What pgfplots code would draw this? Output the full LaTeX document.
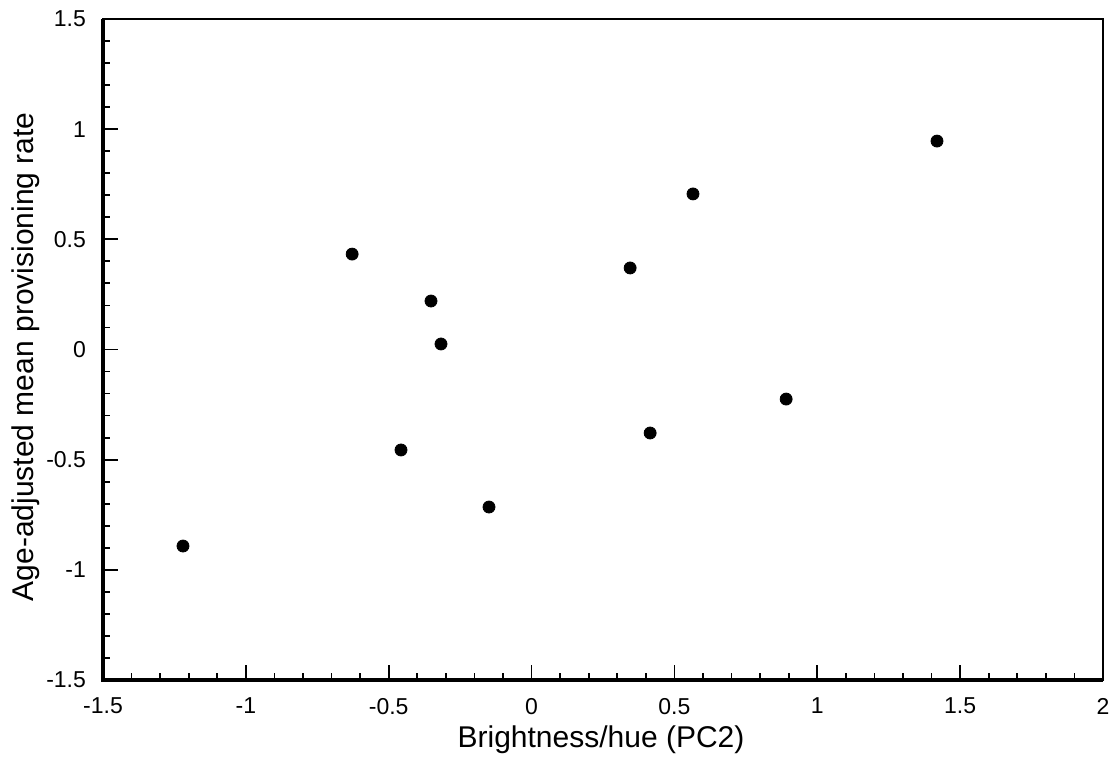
\documentclass[border=0pt]{standalone}
\usepackage{fontspec}
\setmainfont{Liberation Sans}
\usepackage{pgfplots}
\pgfplotsset{compat=1.18}

\begin{document}
\begin{tikzpicture}
\useasboundingbox (-51.5pt,-39pt) rectangle (505pt,340pt);
\begin{axis}[
  at={(0pt,0pt)}, anchor=south west,
  scale only axis,
  width=500pt, height=330.5pt,
  xmin=-1.5, xmax=2, ymin=-1.5, ymax=1.5,
  xtick={-1.5,-1,...,2}, ytick={-1.5,-1,...,1.5},
  minor tick num=4,
  tick align=inside,
  xtick pos=bottom, ytick pos=left,
  major tick length=7.5pt, minor tick length=3.5pt,
  every tick/.style={black, line width=0.9pt},
  axis line style={line width=1pt},
  /pgf/number format/assume math mode=true,
  ticklabel style={font=\fontsize{11.5}{13}\selectfont},
  xticklabel style={yshift=-5.5pt},
  yticklabel style={xshift=-5pt},
  xlabel={Brightness/hue (PC2)},
  ylabel={Age-adjusted mean provisioning rate},
  label style={font=\fontsize{15}{17}\selectfont},
  xlabel style={at={(axis description cs:0.498,-0.1014)}, anchor=base},
  ylabel style={at={(axis description cs:-0.0775,0.489)}, anchor=center},
  clip=false,
]
\addplot[only marks, mark=*, mark size=3pt, black] coordinates {
  (-1.220,-0.892) (-0.628,0.433) (-0.352,0.220) (-0.317,0.025)
  (-0.457,-0.456) (-0.149,-0.715) (0.345,0.370) (0.565,0.706)
  (0.415,-0.379) (0.891,-0.225) (1.419,0.946)
};
\draw[line width=1.6pt] (rel axis cs:0,1) -- (rel axis cs:0,0) -- (rel axis cs:1,0);
\end{axis}
\end{tikzpicture}
\end{document}
